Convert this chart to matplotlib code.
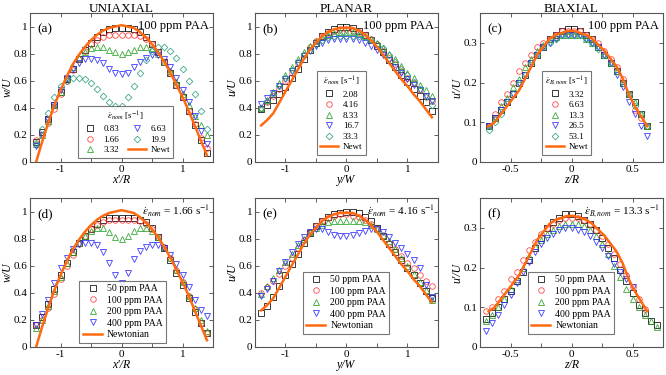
"""Velocity profiles across the three extension geometries (uniaxial / planar / biaxial)."""
import matplotlib
matplotlib.use("Agg")
import matplotlib.pyplot as plt
import numpy as np
from matplotlib.ticker import MultipleLocator, FuncFormatter

plt.rcParams["font.family"] = ["Liberation Serif", "DejaVu Serif"]
plt.rcParams["mathtext.fontset"] = "stix"

# ---------------------------------------------------------------- data
x_wide = [-1.4, -1.3, -1.2, -1.1, -1.0, -0.9, -0.8, -0.7, -0.6, -0.5, -0.4, -0.3, -0.2, -0.1, 0.0,
          0.1, 0.2, 0.3, 0.4, 0.5, 0.6, 0.7, 0.8, 0.9, 1.0, 1.1, 1.2, 1.3, 1.4]
x_biax = [-0.68, -0.63, -0.58, -0.53, -0.48, -0.43, -0.38, -0.33, -0.28, -0.23, -0.18, -0.13, -0.08, -0.03,
          0.02, 0.07, 0.12, 0.17, 0.22, 0.27, 0.32, 0.37, 0.42, 0.47, 0.52, 0.57, 0.62]
x_biax2 = [-0.7, -0.65, -0.6, -0.55, -0.5, -0.45, -0.4, -0.35, -0.3, -0.25, -0.2, -0.15, -0.1, -0.05, 0.0,
           0.05, 0.1, 0.15, 0.2, 0.25, 0.3, 0.35, 0.4, 0.45, 0.5, 0.55, 0.6, 0.65, 0.7]

# (a) uniaxial, 100 ppm
uni_rates = ["0.83", "1.66", "3.32", "6.63", "19.9"]
uni_083 = [0.15, 0.22, 0.32, 0.42, 0.52, 0.61, 0.69, 0.76, 0.83, 0.88, 0.92, 0.96, 0.98, 0.99, 0.99,
           0.99, 0.98, 0.96, 0.92, 0.87, 0.81, 0.74, 0.66, 0.57, 0.48, 0.38, 0.27, 0.16, 0.07]
uni_166 = [0.16, 0.20, 0.29, 0.39, 0.50, 0.60, 0.68, 0.76, 0.82, 0.87, 0.90, 0.92, 0.94, 0.94, 0.94,
           0.94, 0.94, 0.93, 0.91, 0.87, 0.81, 0.74, 0.66, 0.57, 0.48, 0.38, 0.28, 0.18, 0.10]
uni_332 = [0.13, 0.20, 0.30, 0.42, 0.52, 0.62, 0.70, 0.77, 0.81, 0.84, 0.85, 0.85, 0.83, 0.81, 0.80,
           0.81, 0.83, 0.85, 0.85, 0.84, 0.80, 0.74, 0.67, 0.59, 0.50, 0.42, 0.34, 0.27, 0.20]
uni_663 = [0.12, 0.20, 0.31, 0.42, 0.53, 0.62, 0.69, 0.73, 0.76, 0.76, 0.75, 0.73, 0.69, 0.66, 0.65,
           0.66, 0.70, 0.74, 0.77, 0.79, 0.79, 0.76, 0.70, 0.62, 0.53, 0.44, 0.34, 0.23, 0.13]
uni_199 = [0.14, 0.24, 0.36, 0.48, 0.56, 0.60, 0.62, 0.62, 0.61, 0.58, 0.54, 0.49, 0.44, 0.41, 0.41,
           0.48, 0.56, 0.66, 0.75, 0.82, 0.85, 0.85, 0.82, 0.77, 0.69, 0.60, 0.50, 0.38, 0.24]
uni_newt = [0.0, 0.15, 0.29, 0.42, 0.53, 0.63, 0.72, 0.79, 0.85, 0.90, 0.94, 0.97, 0.99, 1.0, 1.01,
            1.0, 0.99, 0.96, 0.92, 0.87, 0.81, 0.74, 0.66, 0.57, 0.48, 0.38, 0.27, 0.16, 0.05]

# (b) planar, 100 ppm
pla_rates = ["2.08", "4.16", "8.33", "16.7", "33.3"]
pla_208 = [0.39, 0.42, 0.46, 0.50, 0.55, 0.62, 0.69, 0.76, 0.83, 0.88, 0.93, 0.96, 0.98, 1.0, 1.0,
           0.99, 0.97, 0.94, 0.90, 0.86, 0.81, 0.75, 0.70, 0.64, 0.59, 0.54, 0.49, 0.44, 0.38]
pla_416 = [0.40, 0.44, 0.49, 0.54, 0.60, 0.66, 0.73, 0.79, 0.85, 0.89, 0.93, 0.95, 0.97, 0.98, 0.98,
           0.97, 0.96, 0.94, 0.91, 0.87, 0.82, 0.77, 0.72, 0.67, 0.62, 0.58, 0.53, 0.49, 0.45]
pla_833 = [0.40, 0.46, 0.52, 0.58, 0.64, 0.70, 0.76, 0.81, 0.86, 0.89, 0.92, 0.94, 0.95, 0.96, 0.96,
           0.96, 0.95, 0.93, 0.91, 0.88, 0.84, 0.80, 0.76, 0.71, 0.66, 0.62, 0.57, 0.53, 0.49]
pla_167 = [0.43, 0.47, 0.51, 0.56, 0.61, 0.67, 0.73, 0.78, 0.82, 0.86, 0.88, 0.90, 0.91, 0.91, 0.91,
           0.91, 0.90, 0.88, 0.86, 0.83, 0.79, 0.75, 0.70, 0.66, 0.61, 0.57, 0.53, 0.49, 0.45]
pla_333 = [0.40, 0.45, 0.50, 0.56, 0.62, 0.68, 0.74, 0.79, 0.83, 0.87, 0.90, 0.92, 0.93, 0.93, 0.93,
           0.93, 0.93, 0.92, 0.90, 0.87, 0.84, 0.79, 0.74, 0.69, 0.64, 0.59, 0.54, 0.48, 0.42]
pla_newt = [0.27, 0.31, 0.36, 0.44, 0.52, 0.60, 0.68, 0.76, 0.83, 0.88, 0.93, 0.96, 0.98, 0.99, 0.99,
            0.99, 0.97, 0.94, 0.90, 0.85, 0.79, 0.73, 0.67, 0.61, 0.56, 0.50, 0.45, 0.39, 0.33]

# (c) biaxial, 100 ppm
bia_rates = ["3.32", "6.63", "13.3", "26.5", "53.1"]
bia_332 = [0.09, 0.11, 0.13, 0.15, 0.17, 0.20, 0.22, 0.25, 0.27, 0.29, 0.31, 0.32, 0.33, 0.335,
           0.335, 0.33, 0.32, 0.31, 0.29, 0.27, 0.25, 0.23, 0.20, 0.17, 0.15, 0.12, 0.09]
bia_663 = [0.09, 0.12, 0.15, 0.17, 0.20, 0.23, 0.25, 0.27, 0.29, 0.30, 0.31, 0.32, 0.33, 0.33,
           0.33, 0.33, 0.32, 0.31, 0.30, 0.28, 0.26, 0.24, 0.21, 0.17, 0.13, 0.11, 0.09]
bia_133 = [0.09, 0.11, 0.14, 0.16, 0.19, 0.21, 0.24, 0.26, 0.28, 0.295, 0.31, 0.315, 0.32, 0.32,
           0.32, 0.32, 0.31, 0.30, 0.29, 0.27, 0.25, 0.23, 0.20, 0.17, 0.15, 0.12, 0.09]
bia_265 = [0.09, 0.11, 0.13, 0.15, 0.17, 0.20, 0.22, 0.25, 0.27, 0.29, 0.30, 0.31, 0.32, 0.32,
           0.32, 0.32, 0.31, 0.30, 0.29, 0.27, 0.25, 0.22, 0.19, 0.15, 0.12, 0.09, 0.065]
bia_531 = [0.08, 0.10, 0.12, 0.15, 0.17, 0.20, 0.22, 0.25, 0.27, 0.29, 0.30, 0.31, 0.32, 0.32,
           0.32, 0.32, 0.31, 0.30, 0.285, 0.27, 0.25, 0.23, 0.20, 0.17, 0.14, 0.12, 0.09]
bia_newt = [0.09, 0.10, 0.12, 0.14, 0.16, 0.18, 0.21, 0.24, 0.27, 0.29, 0.31, 0.32, 0.325, 0.33,
            0.33, 0.325, 0.32, 0.31, 0.295, 0.28, 0.26, 0.24, 0.21, 0.17, 0.14, 0.115, 0.09]

# (d)-(f) concentration series at fixed rate
conc_labels = ["50 ppm PAA", "100 ppm PAA", "200 ppm PAA", "400 ppm PAA"]
uni_c50 = [0.16, 0.22, 0.32, 0.43, 0.53, 0.62, 0.70, 0.77, 0.82, 0.87, 0.91, 0.94, 0.95, 0.95, 0.95,
           0.95, 0.95, 0.94, 0.92, 0.88, 0.81, 0.73, 0.64, 0.55, 0.46, 0.36, 0.26, 0.18, 0.10]
uni_c100 = uni_166
uni_c200 = [0.14, 0.20, 0.30, 0.41, 0.52, 0.62, 0.70, 0.77, 0.82, 0.86, 0.88, 0.88, 0.85, 0.81, 0.80,
            0.82, 0.86, 0.88, 0.88, 0.86, 0.81, 0.74, 0.66, 0.57, 0.48, 0.38, 0.29, 0.20, 0.12]
uni_c400 = [0.16, 0.24, 0.35, 0.47, 0.58, 0.66, 0.72, 0.76, 0.77, 0.77, 0.75, 0.70, 0.62, 0.53, 0.47,
            0.55, 0.65, 0.71, 0.74, 0.75, 0.75, 0.73, 0.68, 0.61, 0.53, 0.44, 0.35, 0.27, 0.23]

pla_c50 = [0.25, 0.30, 0.37, 0.45, 0.53, 0.61, 0.69, 0.77, 0.84, 0.89, 0.93, 0.96, 0.98, 0.99, 1.0,
           1.0, 0.99, 0.96, 0.93, 0.88, 0.82, 0.76, 0.70, 0.64, 0.58, 0.53, 0.47, 0.41, 0.36]
pla_c100 = pla_416
pla_c200 = [0.39, 0.45, 0.51, 0.57, 0.63, 0.69, 0.75, 0.80, 0.85, 0.88, 0.90, 0.92, 0.93, 0.93, 0.93,
            0.93, 0.93, 0.92, 0.90, 0.87, 0.83, 0.78, 0.72, 0.66, 0.60, 0.54, 0.48, 0.42, 0.35]
pla_c400 = [0.38, 0.43, 0.49, 0.56, 0.63, 0.70, 0.76, 0.81, 0.85, 0.87, 0.87, 0.85, 0.83, 0.82, 0.82,
            0.83, 0.84, 0.86, 0.87, 0.87, 0.85, 0.81, 0.77, 0.73, 0.69, 0.64, 0.58, 0.46, 0.37]

bia_c50 = [0.07, 0.085, 0.10, 0.12, 0.14, 0.165, 0.19, 0.22, 0.25, 0.275, 0.30, 0.315, 0.325, 0.335, 0.335,
           0.33, 0.32, 0.31, 0.295, 0.275, 0.25, 0.225, 0.195, 0.165, 0.135, 0.105, 0.085, 0.065, 0.055]
bia_c100 = [0.09, 0.10, 0.12, 0.14, 0.17, 0.19, 0.22, 0.245, 0.265, 0.285, 0.30, 0.31, 0.32, 0.325, 0.325,
            0.325, 0.32, 0.31, 0.295, 0.28, 0.26, 0.235, 0.21, 0.18, 0.15, 0.12, 0.095, np.nan, np.nan]
bia_c200 = [0.065, 0.08, 0.10, 0.12, 0.145, 0.17, 0.20, 0.23, 0.255, 0.27, 0.285, 0.295, 0.305, 0.31, 0.31,
            0.31, 0.305, 0.295, 0.28, 0.26, 0.235, 0.205, 0.175, 0.145, 0.12, 0.10, 0.08, 0.065, 0.05]
bia_c400 = [0.04, 0.06, 0.08, 0.105, 0.13, 0.16, 0.19, 0.215, 0.24, 0.26, 0.275, 0.285, 0.295, 0.30, 0.30,
            0.295, 0.29, 0.28, 0.265, 0.25, 0.23, 0.21, 0.19, 0.17, 0.15, np.nan, np.nan, np.nan, np.nan]

colors = ["#000000", "#ff3333", "#22a022", "#2828ff", "#2e9e80"]
markers = ["s", "o", "^", "v", "D"]
newt_color = "#ff6a10"

# ---------------------------------------------------------------- layout
fig = plt.figure(figsize=(6.66, 3.75), dpi=100)
W, H = 666.0, 375.0
lefts = [30, 255, 480]
tops = [13, 198]
aw, ah = 183, 149
axes = {}
for r, top in enumerate(tops):
    for c, left in enumerate(lefts):
        axes[(r, c)] = fig.add_axes([left / W, 1 - (top + ah) / H, aw / W, ah / H])

fmt = FuncFormatter(lambda v, p: f"{v:g}")


def style(ax, xlim, ylim, xmaj, xmin, ymaj, xlabel, ylabel):
    ax.set_xlim(*xlim)
    ax.set_ylim(*ylim)
    ax.xaxis.set_major_locator(MultipleLocator(xmaj))
    ax.xaxis.set_minor_locator(MultipleLocator(xmin))
    ax.yaxis.set_major_locator(MultipleLocator(ymaj))
    ax.tick_params(which="both", direction="in", top=True, right=True, labelsize=8,
                   color="#444444", pad=2)
    ax.tick_params(which="both", axis="x", length=3, width=0.6)
    ax.tick_params(which="major", axis="y", length=3, width=0.6)
    for sp in ax.spines.values():
        sp.set_color("#555555")
        sp.set_linewidth(0.8)
    ax.set_xlabel(xlabel, fontsize=8.5, style="italic", labelpad=0)
    ax.set_ylabel(ylabel, fontsize=8.5, style="italic", labelpad=0)
    ax.xaxis.set_major_formatter(fmt)
    ax.yaxis.set_major_formatter(fmt)


def scatter_set(ax, x, series, labels):
    for y, lab, col, mk in zip(series, labels, colors, markers):
        ms = 3.4 if mk == "D" else 4.0
        ax.plot(x, y, linestyle="none", marker=mk, ms=ms, mfc="none", mec=col, mew=0.6,
                label=lab, alpha=0.9)


def legend(ax, title, loc_box, ncol=1, size=6.5):
    leg = ax.legend(title=title, ncol=ncol, loc="lower left", bbox_to_anchor=loc_box,
                    fontsize=size, title_fontsize=size, frameon=True, fancybox=False,
                    edgecolor="#555555", handlelength=2.0, handletextpad=0.5,
                    borderpad=0.35, labelspacing=0.25, columnspacing=1.0, borderaxespad=0)
    leg.get_frame().set_linewidth(0.8)
    return leg


panels = [
    ((0, 0), x_wide, [uni_083, uni_166, uni_332, uni_663, uni_199], uni_rates, x_wide, uni_newt),
    ((0, 1), x_wide, [pla_208, pla_416, pla_833, pla_167, pla_333], pla_rates, x_wide, pla_newt),
    ((0, 2), x_biax, [bia_332, bia_663, bia_133, bia_265, bia_531], bia_rates, x_biax, bia_newt),
    ((1, 0), x_wide, [uni_c50, uni_c100, uni_c200, uni_c400], conc_labels, x_wide, uni_newt),
    ((1, 1), x_wide, [pla_c50, pla_c100, pla_c200, pla_c400], conc_labels, x_wide, pla_newt),
    ((1, 2), x_biax2, [bia_c50, bia_c100, bia_c200, bia_c400], conc_labels, x_biax, bia_newt),
]

for key, x, series, labels, xn, yn in panels:
    ax = axes[key]
    scatter_set(ax, x, series, labels)
    newt_label = "Newt" if key[0] == 0 else "Newtonian"
    ax.plot(xn, yn, color=newt_color, lw=1.8, label=newt_label, zorder=5)

for r in range(2):
    style(axes[(r, 0)], (-1.5, 1.5), (0, 1.1), 1, 0.5, 0.2, "x'/R", "w/U")
    style(axes[(r, 1)], (-1.5, 1.5), (0, 1.1), 1, 0.5, 0.2, "y/W", "u/U")
    style(axes[(r, 2)], (-0.75, 0.75), (0, 0.375), 0.5, 0.25, 0.1, "z/R", "u'/U")

eps = r"$\dot{\varepsilon}_{nom}$ [s$^{-1}$]"
epsb = r"$\dot{\varepsilon}_{B,nom}$ [s$^{-1}$]"
legend(axes[(0, 0)], eps, (0.26, 0.03), ncol=2)
legend(axes[(0, 1)], eps, (0.34, 0.05))
legend(axes[(0, 2)], epsb, (0.34, 0.05))
legend(axes[(1, 0)], None, (0.27, 0.03), size=7)
legend(axes[(1, 1)], None, (0.26, 0.09), size=7)
legend(axes[(1, 2)], None, (0.26, 0.09), size=7)

# titles and annotations
for c, t in enumerate(["UNIAXIAL", "PLANAR", "BIAXIAL"]):
    axes[(0, c)].text(0.5, 1.0 + 1.5 / ah, t, transform=axes[(0, c)].transAxes,
                      fontsize=9.5, ha="center", va="baseline")
for key, lab in zip([(0, 0), (0, 1), (0, 2), (1, 0), (1, 1), (1, 2)], "abcdef"):
    axes[key].text(0.04, 0.93, f"({lab})", transform=axes[key].transAxes, fontsize=9.5,
                   va="top", ha="left")
for c in range(3):
    axes[(0, c)].text(0.98, 0.95, "100 ppm PAA", transform=axes[(0, c)].transAxes,
                      fontsize=9, va="top", ha="right")
rate_notes = [r"$\dot{\varepsilon}_{nom}$ = 1.66 s$^{-1}$", r"$\dot{\varepsilon}_{nom}$ = 4.16 s$^{-1}$",
              r"$\dot{\varepsilon}_{B,nom}$ = 13.3 s$^{-1}$"]
for c, note in enumerate(rate_notes):
    axes[(1, c)].text(0.985, 0.96, note, transform=axes[(1, c)].transAxes,
                      fontsize=8, va="top", ha="right")

fig.savefig("out.png", dpi=100)
